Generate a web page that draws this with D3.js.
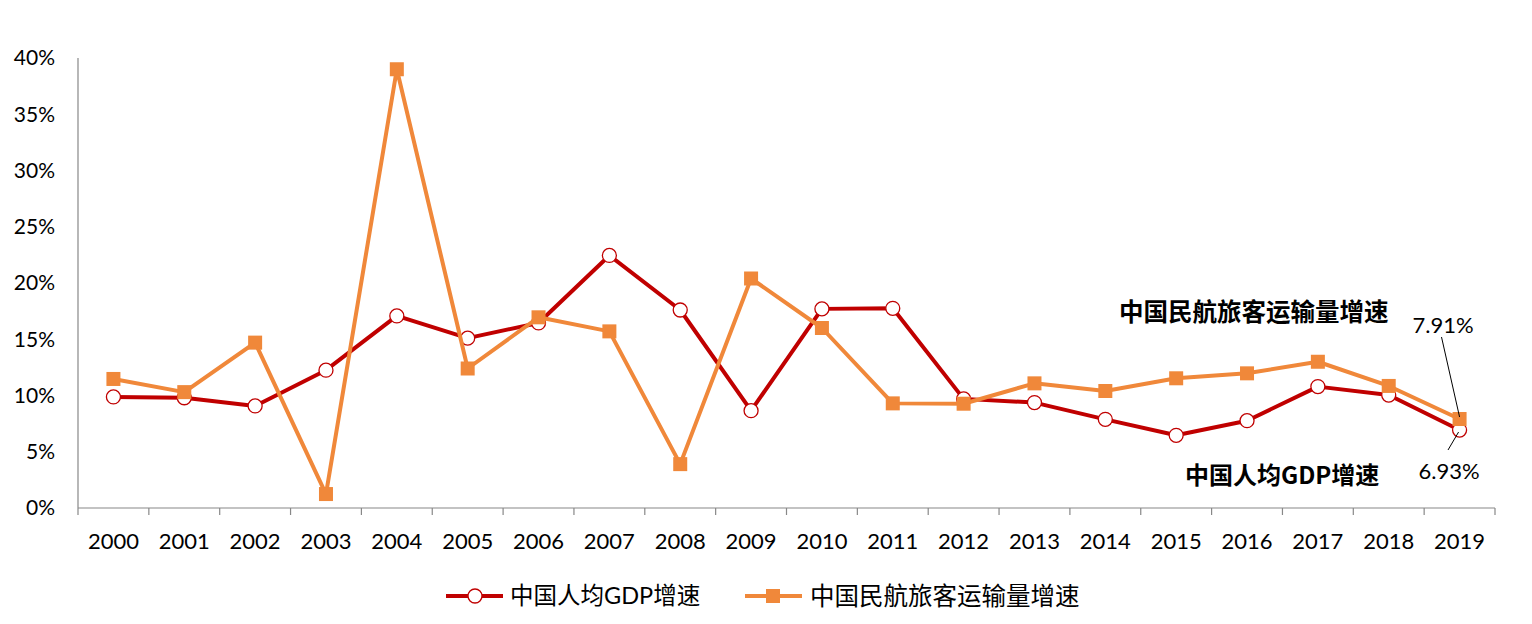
<!DOCTYPE html>
<html>
<head>
<meta charset="utf-8">
<script src="https://cdn.jsdelivr.net/npm/d3@7"></script>
<style>
  body { margin: 0; background: #fff; }
  text { font-family: Lato, "Noto Sans CJK SC", sans-serif; fill: #000; }
  .note { font-family: "Noto Sans CJK SC", sans-serif; font-weight: 700; }
</style>
</head>
<body>
<div id="container"></div>
<script>
// per-capita GDP growth vs civil aviation passenger growth, 2000-2019

const years = ["2000","2001","2002","2003","2004","2005","2006","2007","2008","2009",
               "2010","2011","2012","2013","2014","2015","2016","2017","2018","2019"];

const gdpGrowth = [9.87, 9.8, 9.07, 12.25, 17.07, 15.1, 16.45, 22.45, 17.6, 8.65,
                   17.7, 17.75, 9.7, 9.37, 7.88, 6.46, 7.76, 10.79, 10.04, 6.93];

const aviationGrowth = [11.47, 10.3, 14.7, 1.24, 39.0, 12.4, 16.95, 15.7, 3.9, 20.4,
                        16.0, 9.3, 9.27, 11.08, 10.4, 11.53, 11.97, 13.0, 10.85, 7.91];

const yTicks = [0, 5, 10, 15, 20, 25, 30, 35, 40];

const gdpName = "中国人均GDP增速",
      aviationName = "中国民航旅客运输量增速";

const width = 1532,
      height = 624;

const red = "#C00000",
      orange = "#F0883A";

const svg = d3.select("#container").append("svg")
    .attr("width", width)
    .attr("height", height);

const x = d3.scaleBand()
    .domain(years)
    .range([78, 1495]);

const y = d3.scaleLinear()
    .domain([0, 40])
    .range([508, 58]);

const cx = d => x(d) + x.bandwidth() / 2;

// axes
const xAxis = svg.append("g")
    .attr("transform", "translate(0," + y(0) + ")");

xAxis.append("line")
    .attr("x1", x.range()[0]).attr("x2", x.range()[1])
    .attr("stroke", "#888").attr("stroke-width", 1.2);

xAxis.selectAll("line.tick")
    .data(years.concat(["end"]))
    .enter().append("line")
    .classed("tick", true)
    .attr("x1", (d, i) => x.range()[0] + i * x.step())
    .attr("x2", (d, i) => x.range()[0] + i * x.step())
    .attr("y1", 0).attr("y2", 7)
    .attr("stroke", "#888").attr("stroke-width", 1.2);

xAxis.selectAll("text")
    .data(years)
    .enter().append("text")
    .attr("x", cx)
    .attr("y", 33)
    .attr("dy", "0.35em")
    .attr("text-anchor", "middle")
    .style("font-size", "22px")
    .text(d => d);

svg.append("line")
    .attr("x1", x.range()[0]).attr("x2", x.range()[0])
    .attr("y1", y(40)).attr("y2", y(0))
    .attr("stroke", "#888").attr("stroke-width", 1.2);

svg.append("g").selectAll("text")
    .data(yTicks)
    .enter().append("text")
    .attr("x", 55)
    .attr("y", d => y(d))
    .attr("dy", "0.35em")
    .attr("text-anchor", "end")
    .style("font-size", "21px")
    .text(d => d + "%");

// lines
const line = d3.line()
    .x((d, i) => cx(years[i]))
    .y(d => y(d));

svg.append("path")
    .datum(gdpGrowth)
    .attr("d", line)
    .attr("fill", "none")
    .attr("stroke", red)
    .attr("stroke-width", 4)
    .attr("stroke-linejoin", "round");

svg.append("g").selectAll("circle")
    .data(gdpGrowth)
    .enter().append("circle")
    .attr("cx", (d, i) => cx(years[i]))
    .attr("cy", d => y(d))
    .attr("r", 7)
    .attr("fill", "#fff")
    .attr("stroke", red)
    .attr("stroke-width", 1.3);

svg.append("path")
    .datum(aviationGrowth)
    .attr("d", line)
    .attr("fill", "none")
    .attr("stroke", orange)
    .attr("stroke-width", 4)
    .attr("stroke-linejoin", "round");

svg.append("g").selectAll("rect")
    .data(aviationGrowth)
    .enter().append("rect")
    .attr("x", (d, i) => cx(years[i]) - 7)
    .attr("y", d => y(d) - 7)
    .attr("width", 14)
    .attr("height", 14)
    .attr("fill", orange);

// annotations on the last point
const last = years[years.length - 1];

svg.append("text")
    .attr("x", 1443).attr("y", 325)
    .attr("dy", "0.35em")
    .attr("text-anchor", "middle")
    .style("font-size", "22px")
    .text(aviationGrowth[aviationGrowth.length - 1].toFixed(2) + "%");

svg.append("line")
    .attr("x1", 1441.5).attr("y1", 337)
    .attr("x2", cx(last)).attr("y2", y(aviationGrowth[aviationGrowth.length - 1]) - 2)
    .attr("stroke", "#000").attr("stroke-width", 1);

svg.append("text")
    .attr("x", 1449).attr("y", 471)
    .attr("dy", "0.35em")
    .attr("text-anchor", "middle")
    .style("font-size", "22px")
    .text(gdpGrowth[gdpGrowth.length - 1].toFixed(2) + "%");

svg.append("line")
    .attr("x1", 1448).attr("y1", 450)
    .attr("x2", cx(last) - 1).attr("y2", y(gdpGrowth[gdpGrowth.length - 1]) + 2)
    .attr("stroke", "#000").attr("stroke-width", 1);

svg.append("text")
    .classed("note", true)
    .attr("x", 1119).attr("y", 312)
    .attr("dy", "0.35em")
    .style("font-size", "24.5px")
    .text(aviationName);

svg.append("text")
    .classed("note", true)
    .attr("x", 1185).attr("y", 476)
    .attr("dy", "0.35em")
    .style("font-size", "24px")
    .text(gdpName);

// legend
const legend = svg.append("g")
    .attr("transform", "translate(0,596)");

legend.append("line")
    .attr("x1", 446).attr("x2", 503)
    .attr("stroke", red).attr("stroke-width", 4);
legend.append("circle")
    .attr("cx", 475).attr("cy", 0).attr("r", 7)
    .attr("fill", "#fff").attr("stroke", red).attr("stroke-width", 1.3);
legend.append("text")
    .attr("x", 510).attr("dy", "0.35em")
    .style("font-size", "23.5px")
    .text(gdpName);

legend.append("line")
    .attr("x1", 745).attr("x2", 802)
    .attr("stroke", orange).attr("stroke-width", 4);
legend.append("rect")
    .attr("x", 766).attr("y", -7).attr("width", 14).attr("height", 14)
    .attr("fill", orange);
legend.append("text")
    .attr("x", 810).attr("dy", "0.35em")
    .style("font-size", "24.5px")
    .text(aviationName);
</script>
</body>
</html>
